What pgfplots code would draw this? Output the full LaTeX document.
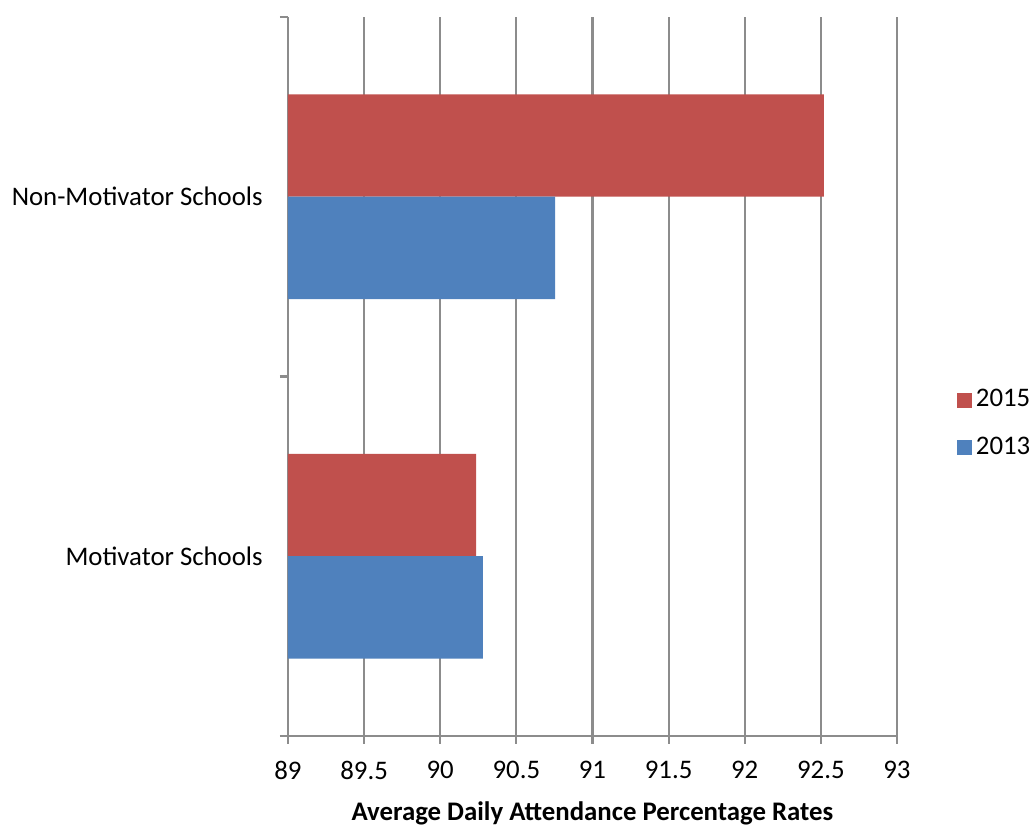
\documentclass[border=0pt]{standalone}
\usepackage{pgfplots}
\pgfplotsset{compat=1.18}
\usepackage{fontspec}
\setmainfont{Carlito}
\definecolor{cred}{HTML}{C0504D}
\definecolor{cblue}{HTML}{4F81BD}
\definecolor{cgrid}{HTML}{8C8C8C}
\begin{document}
\fontsize{13.4}{16}\selectfont
\begin{tikzpicture}
\begin{axis}[
  scale only axis,
  width=304.5pt, height=359.5pt,
  xbar,
  xmin=89, xmax=93,
  ymin=-0.5, ymax=1.5,
  xtick={89,89.5,...,93},
  xticklabels={89,89.5,90,90.5,91,91.5,92,92.5,93},
  xmajorgrids,
  grid style={cgrid, line width=1.1pt},
  axis lines=left,
  axis line style={-, cgrid, line width=1.1pt},
  tick style={cgrid, line width=1.1pt},
  tick align=outside,
  major tick length=4pt,
  ytick={-0.5,0.5,1.5},
  yticklabels={},
  extra y ticks={0,1},
  extra y tick labels={Motivator Schools,Non-Motivator Schools},
  extra y tick style={major tick length=0pt, yticklabel style={xshift=-8pt}},
  ticklabel style={font=\fontsize{13.4}{16}\selectfont, text=black},
  xticklabel style={yshift=-4pt},
  /pgf/number format/assume math mode=true,
  xlabel={\textbf{Average Daily Attendance Percentage Rates}},
  xlabel style={font=\fontsize{13.4}{16}\selectfont, yshift=-2pt},
  bar width=0.285,
  legend style={draw=none, at={(1.088,0.434)}, anchor=west,
    font=\fontsize{13.4}{16}\selectfont, row sep=9pt,
    /tikz/every even column/.append style={column sep=2pt}},
  legend cell align=left,
  legend image code/.code={\fill[#1] (0pt,-3.75pt) rectangle (7.5pt,3.75pt);},
]
\addplot[fill=cred, draw=none, bar shift=0.1425] coordinates {(90.235,0) (92.52,1)};
\addlegendentry{2015}
\addplot[fill=cblue, draw=none, bar shift=-0.1425] coordinates {(90.28,0) (90.755,1)};
\addlegendentry{2013}
\end{axis}
\pgfresetboundingbox
\useasboundingbox (current axis.south west) ++(-144pt,-44.5pt) rectangle ++(515pt,412.5pt);
\end{tikzpicture}
\end{document}
